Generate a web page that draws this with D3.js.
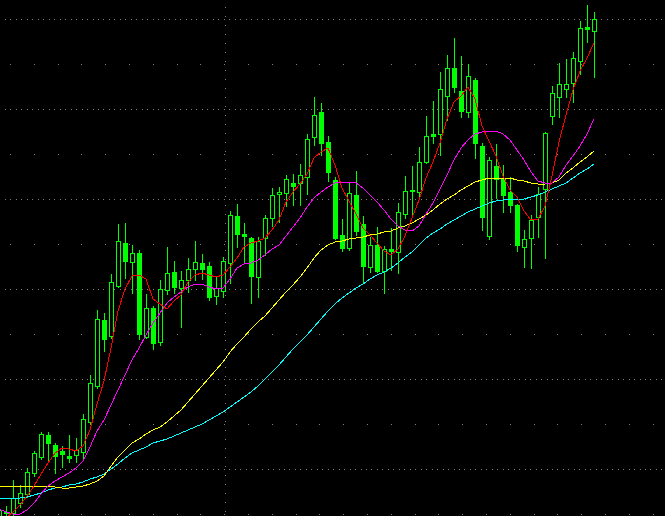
<!DOCTYPE html>
<html><head><meta charset="utf-8">
<script src="https://cdn.jsdelivr.net/npm/d3@7/dist/d3.min.js"></script>
<style>html,body{margin:0;padding:0;background:#000;overflow:hidden}</style>
</head><body><svg id="c" width="665" height="516"></svg>
<script>
// ---- data (price units) ----
const opens  = [8.4,8.7,8.7,9.7,10.6,12.7,14.3,16.5,15.5,14.9,14.4,14.5,14.8,17.8,21.4,28.0,26.4,31.4,35.7,33.8,34.7,26.3,29.2,25.8,31.0,32.8,31.2,32.0,33.1,33.7,33.4,30.4,30.9,33.7,38.4,36.6,36.2,32.3,36.2,38.2,40.6,40.7,41.7,41.7,42.3,46.3,48.8,45.8,42.0,36.5,35.2,40.5,37.6,33.3,35.5,32.9,35.1,34.8,38.6,41.0,40.8,43.8,46.6,46.6,50.4,53.2,50.9,48.8,52.0,45.4,36.4,43.4,42.1,40.8,39.5,35.3,36.2,38.3,41.1,48.4,50.3,51.1,51.7,53.9,57.3,56.9];
const highs  = [9.2,9.4,12.0,11.5,13.2,14.9,16.8,16.8,15.7,15.4,16.5,16.2,18.6,22.5,29.0,28.7,32.6,37.6,37.7,35.5,35.0,30.6,29.4,32.0,35.3,33.9,32.9,34.2,35.9,34.6,33.8,32.3,34.3,38.9,39.6,37.7,36.3,36.3,38.5,41.2,41.3,42.5,42.6,43.6,46.6,50.3,49.7,46.4,42.3,38.1,41.7,42.9,38.4,36.3,37.3,35.4,37.2,39.7,42.4,43.4,45.3,48.4,49.9,52.8,54.5,56.2,54.4,53.6,52.2,45.7,44.3,45.6,43.5,42.3,39.6,37.0,38.5,41.3,46.8,51.4,53.7,54.1,54.8,57.9,59.5,58.8];
const lows   = [8.2,8.2,8.3,9.3,10.3,12.4,14.1,14.0,12.7,13.3,13.8,13.8,14.2,17.6,21.2,24.9,26.2,31.3,32.2,30.7,26.1,26.2,25.1,25.5,30.6,30.7,27.3,30.8,32.0,32.1,30.0,29.6,30.3,31.7,35.3,33.8,29.7,30.3,34.5,37.4,37.8,39.4,39.5,39.5,40.6,45.5,44.5,41.9,36.1,34.9,35.0,36.5,31.8,32.8,32.8,30.7,33.0,32.7,38.2,38.5,40.3,43.7,45.7,44.5,48.0,50.8,48.3,48.3,44.2,37.0,36.1,40.2,38.8,38.8,34.9,33.3,33.2,36.3,34.2,47.6,48.3,50.3,49.8,52.6,55.8,52.3];
const closes = [9.0,8.8,10.2,10.7,12.8,14.7,16.6,15.7,14.4,14.6,14.2,15.0,18.1,21.7,28.1,26.1,31.8,35.9,33.9,34.7,26.6,29.2,25.7,31.1,32.7,31.3,32.0,33.1,33.8,33.1,30.3,31.2,33.9,38.5,36.6,36.4,32.4,35.9,38.2,40.5,40.8,42.1,41.4,42.5,46.1,48.5,45.7,42.8,36.2,35.2,40.7,36.9,33.4,35.5,32.9,35.1,34.9,38.8,40.9,40.9,43.8,46.4,46.4,51.1,53.2,51.3,48.9,52.4,45.7,38.3,44.0,42.1,40.5,39.5,35.5,36.1,38.0,40.6,46.7,50.7,51.6,51.6,54.2,57.2,57.1,58.1];

const ma5  = [7.5,8.2,8.8,9.5,10.4,11.4,12.6,13.7,14.7,15.2,15.1,14.9,15.4,17.0,19.6,21.9,25.2,28.9,31.1,32.4,32.5,32.1,30.1,29.6,29.1,29.9,30.5,31.8,32.5,32.7,32.5,32.3,32.5,33.3,34.2,35.3,35.7,35.9,36.2,37.0,38.0,39.8,40.8,41.6,42.6,44.2,44.8,45.2,43.5,41.2,39.9,38.6,37.2,36.5,35.7,34.9,34.5,35.1,36.4,38.2,40.0,42.2,43.8,45.7,48.1,49.8,50.4,51.3,50.1,47.4,45.9,44.4,42.4,41.0,40.3,38.9,38.0,38.1,39.4,42.4,45.8,48.5,51.0,52.9,54.2,55.7];
const ma10 = [9.1,8.8,8.6,8.6,9.0,9.7,10.6,11.4,11.9,12.3,12.7,13.2,13.9,15.3,16.9,18.0,19.5,21.0,22.5,24.0,25.2,26.5,27.7,28.7,29.7,30.3,30.8,31.3,31.6,31.6,31.3,31.1,31.2,32.1,33.2,33.6,33.7,34.0,34.5,35.1,35.5,36.4,37.3,38.2,39.3,40.2,40.8,41.3,41.7,41.8,41.8,41.7,41.2,40.5,39.8,39.0,38.1,37.4,37.0,36.9,37.4,38.6,39.7,41.1,42.5,44.0,45.2,46.0,46.6,46.8,46.9,46.9,46.6,46.0,45.0,44.0,42.8,41.9,41.7,41.7,42.3,43.5,44.4,45.4,46.6,48.1];
const ma20 = [11.4,11.4,11.4,11.4,11.4,11.4,11.4,11.4,11.3,11.2,11.2,11.3,11.4,11.6,11.9,12.4,13.4,14.3,15.0,15.7,16.1,16.6,17.0,17.3,17.8,18.4,19.0,19.8,20.6,21.4,22.2,23.0,23.8,24.8,25.6,26.3,27.1,27.8,28.4,29.2,30.0,30.8,31.5,32.3,33.2,34.2,35.0,35.5,35.8,35.9,36.1,36.2,36.3,36.5,36.6,36.8,36.9,37.2,37.4,37.7,38.1,38.5,39.0,39.6,40.1,40.5,41.0,41.4,41.8,42.0,42.2,42.2,42.2,42.2,42.0,41.9,41.7,41.6,41.6,41.7,42.0,42.7,43.2,43.8,44.3,44.9];
const ma30 = [10.2,10.2,10.2,10.2,10.3,10.5,10.7,11.0,11.2,11.3,11.5,11.6,11.8,12.1,12.3,12.6,13.1,13.6,14.2,14.7,15.0,15.3,15.7,15.9,16.1,16.4,16.7,17.0,17.3,17.6,18.0,18.4,18.8,19.3,19.8,20.3,20.8,21.4,22.1,22.8,23.5,24.3,25.1,25.8,26.5,27.3,28.1,28.9,29.6,30.2,30.7,31.2,31.6,32.1,32.5,32.8,33.2,33.7,34.3,34.8,35.5,36.2,36.7,37.1,37.6,38.0,38.4,38.8,39.1,39.4,39.7,39.9,40.0,40.1,40.1,40.1,40.3,40.5,40.8,41.1,41.4,41.7,42.2,42.7,43.1,43.6];

const majorGrid = [58.1,49.1,40.1,31.1,22.1,13.1];
const minorGrid = [53.6,44.6,35.6,26.6,17.6,8.6];
const dividers  = [32.3];

// ---- chart ----
const W = 665, H = 516;
const svg = d3.select('#c');
svg.append('rect').attr('width',W).attr('height',H).attr('fill','#000');

const x = d3.scaleLinear().domain([0, closes.length-1]).range([-1, 594]);
const y = d3.scaleLinear().domain([0, 60]).range([600, 0]);

const grid = svg.append('g').attr('shape-rendering','crispEdges');
grid.selectAll('line.maj').data(majorGrid).join('line')
  .attr('x1',5).attr('x2',W).attr('y1',d=>Math.round(y(d))+0.5).attr('y2',d=>Math.round(y(d))+0.5)
  .attr('stroke','#808080').attr('stroke-width',1).attr('stroke-dasharray','1 4.47');
grid.selectAll('line.min').data(minorGrid).join('line')
  .attr('x1',10).attr('x2',W).attr('y1',d=>Math.round(y(d))+0.5).attr('y2',d=>Math.round(y(d))+0.5)
  .attr('stroke','#808080').attr('stroke-width',1).attr('stroke-dasharray','1 22.8');
grid.selectAll('line.vd').data(dividers).join('line')
  .attr('x1',d=>Math.round(x(d))+0.5).attr('x2',d=>Math.round(x(d))+0.5).attr('y1',7).attr('y2',H)
  .attr('stroke','#808080').attr('stroke-width',1).attr('stroke-dasharray','1 8');

const GREEN = '#00ff00';
const idx = d3.range(closes.length);
const cg = svg.append('g').attr('shape-rendering','crispEdges');
const c = cg.selectAll('g').data(idx).join('g');
c.append('line')
  .attr('x1',i=>Math.round(x(i))+0.5).attr('x2',i=>Math.round(x(i))+0.5)
  .attr('y1',i=>Math.round(y(highs[i]))).attr('y2',i=>Math.round(y(lows[i]))+1)
  .attr('stroke',GREEN).attr('stroke-width',1);
c.each(function(i){
  const g = d3.select(this);
  const cx = Math.round(x(i));
  const top = Math.round(y(Math.max(opens[i],closes[i])));
  const bot = Math.round(y(Math.min(opens[i],closes[i])));
  if (closes[i] >= opens[i]) {
    g.append('rect').attr('x',cx-2+0.5).attr('y',top+0.5)
     .attr('width',4).attr('height',Math.max(1,bot-top))
     .attr('fill','#000').attr('stroke',GREEN).attr('stroke-width',1);
  } else {
    g.append('rect').attr('x',cx-2).attr('y',top)
     .attr('width',5).attr('height',Math.max(1,bot-top+1))
     .attr('fill',GREEN);
  }
});

const lines = [[ma30,'#00ffff'],[ma20,'#ffff00'],[ma10,'#ff00ff'],[ma5,'#ff0000']];
const lg = svg.append('g').attr('shape-rendering','crispEdges');
lines.forEach(([arr,col])=>{
  lg.append('path').datum(idx)
    .attr('d', d3.line().x(i=>x(i)).y(i=>y(arr[i])))
    .attr('fill','none').attr('stroke',col).attr('stroke-width',1);
});
</script></body></html>
